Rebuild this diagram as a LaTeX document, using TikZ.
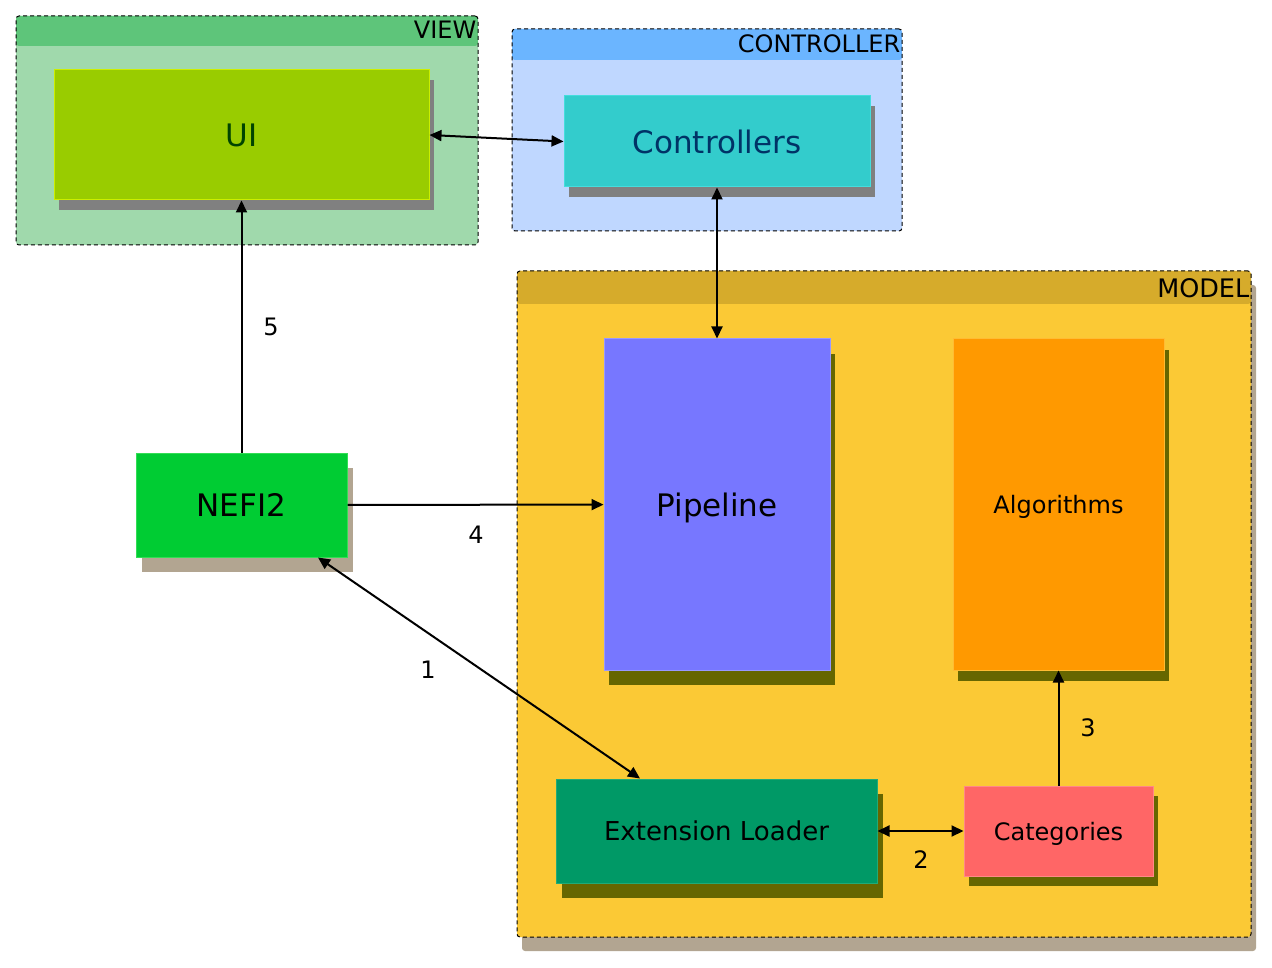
\documentclass[tikz,border=0pt]{standalone}
\usepackage{fontspec}
\setmainfont{DejaVu Sans}
\usetikzlibrary{arrows.meta, positioning, shadows}
\tikzstyle{arrow} = [line width=2pt, -{Triangle[length=12pt, width=11pt]}]
\tikzstyle{biarrow} = [line width=2pt, {Triangle[length=12pt, width=11pt]}-{Triangle[length=12pt, width=11pt]}]

\definecolor{viewhead}{HTML}{5EC57A}
\definecolor{viewbody}{HTML}{A0D9AC}
\definecolor{ctrlhead}{HTML}{6BB5FF}
\definecolor{ctrlbody}{HTML}{BFD7FF}
\definecolor{modelhead}{HTML}{D6AB2B}
\definecolor{modelbody}{HTML}{FBC935}
\definecolor{shadowgray}{HTML}{808080}
\definecolor{shadowtan}{HTML}{B2A591}
\definecolor{shadowolive}{HTML}{666600}
\definecolor{uifill}{HTML}{99CC00}
\definecolor{uiline}{HTML}{CCEE00}
\definecolor{uitext}{HTML}{004400}
\definecolor{ctrlfill}{HTML}{33CCCC}
\definecolor{ctrlline}{HTML}{44DDDD}
\definecolor{ctrltext}{HTML}{003366}
\definecolor{nefifill}{HTML}{00CC33}
\definecolor{nefiline}{HTML}{33DD55}
\definecolor{pipefill}{HTML}{7777FF}
\definecolor{pipeline}{HTML}{9999FF}
\definecolor{algofill}{HTML}{FF9900}
\definecolor{algoline}{HTML}{FFBB33}
\definecolor{extfill}{HTML}{009966}
\definecolor{extline}{HTML}{22AA77}
\definecolor{catfill}{HTML}{FF6666}
\definecolor{catline}{HTML}{FF8888}

\begin{document}
\begin{tikzpicture}[x=1pt, y=-1pt,
    layer/.style={rectangle, rounded corners=3pt, draw=black, dash pattern=on 4pt off 3pt, line width=1pt, inner sep=0pt},
    header/.style 2 args={path picture={\fill[#1] (path picture bounding box.north west) rectangle ([yshift=-#2]path picture bounding box.north east);}},
    title/.style={anchor=base east, inner sep=0pt, font=\fontsize{24}{29}\selectfont},
    block/.style={rectangle, inner sep=0pt, line width=1pt, text depth=0pt, font=\fontsize{31}{37}\selectfont},
    smallblock/.style={block, font=\fontsize{24}{29}\selectfont},
    shadow/.style n args={3}{drop shadow={shadow xshift=#1pt, shadow yshift=-#2pt, fill=#3, opacity=1}},
    num/.style={font=\fontsize{24}{29}\selectfont, inner sep=0pt},
]
\useasboundingbox (0,0) rectangle (1272,968);

% Layers
\node[layer, fill=viewbody, header={viewhead}{30pt}, minimum width=462, minimum height=229] (view) at (247,130.5) {};
\node[title] (viewtitle) at ([xshift=-2pt, yshift=-23.5pt]view.north east) {VIEW};

\node[layer, fill=ctrlbody, header={ctrlhead}{31pt}, minimum width=390, minimum height=202] (controller) at (707,130) {};
\node[title] (controllertitle) at ([xshift=-2pt, yshift=-24pt]controller.north east) {CONTROLLER};

\node[layer, fill=modelbody, header={modelhead}{33pt}, shadow={5}{14}{shadowtan}, minimum width=734, minimum height=666] (model) at (884,604) {};
\node[title, font=\fontsize{25.5}{30}\selectfont] (modeltitle) at ([xshift=-2pt, yshift=-27pt]model.north east) {MODEL};

% Blocks
\node[block, fill=uifill, draw=uiline, text=uitext, shadow={5}{10}{shadowgray}, minimum width=375, minimum height=130] (ui) at (241.5,135) {UI};
\node[block, fill=ctrlfill, draw=ctrlline, text=ctrltext, shadow={5}{10}{shadowgray}, minimum width=306, minimum height=91] (ctrl) at (717,141.5) {Controllers};
\node[block, fill=nefifill, draw=nefiline, shadow={6}{15}{shadowtan}, minimum width=211, minimum height=104] (nefi) at (241.5,505) {NEFI2};
\node[block, fill=pipefill, draw=pipeline, shadow={5}{15}{shadowolive}, minimum width=226, minimum height=331] (pipe) at (717,504.5) {Pipeline};
\node[smallblock, fill=algofill, draw=algoline, shadow={5}{11}{shadowolive}, minimum width=211, minimum height=331] (algo) at (1058.5,504.5) {Algorithms};
\node[smallblock, font=\fontsize{26}{31}\selectfont, fill=extfill, draw=extline, shadow={6}{15}{shadowolive}, minimum width=321, minimum height=104] (ext) at (716.5,831) {Extension Loader};
\node[smallblock, fill=catfill, draw=catline, shadow={5}{10}{shadowolive}, minimum width=189, minimum height=90] (cat) at (1058.5,831) {Categories};

% Connections
\draw[biarrow] (ui.east) -- (ctrl.west);
\draw[biarrow] (ctrl) -- (pipe);
\draw[arrow] (nefi) -- (ui);
\draw[arrow] (nefi) -- (pipe);
\draw[biarrow] ([xshift=76.5pt]nefi.south) -- ([xshift=-76.5pt]ext.north);
\draw[biarrow] (ext) -- (cat);
\draw[arrow] (cat) -- (algo);

% Step numbers
\node[num] (n1) at (428,670) {1};
\node[num] (n2) at (921,860) {2};
\node[num] (n3) at (1088,728) {3};
\node[num] (n4) at (476,535) {4};
\node[num] (n5) at (271,327) {5};

\end{tikzpicture}
\end{document}
